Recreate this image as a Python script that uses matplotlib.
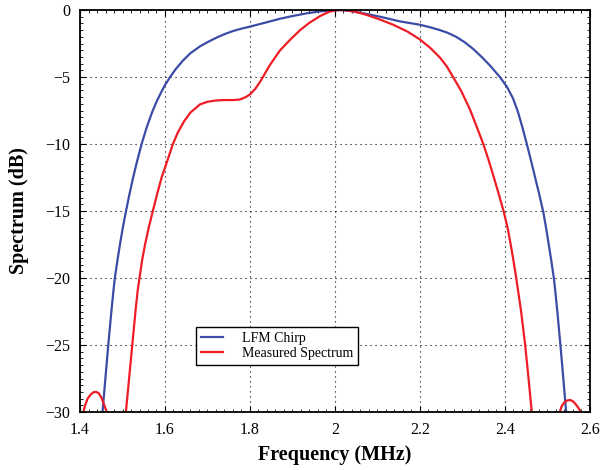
import matplotlib
matplotlib.use("Agg")
import matplotlib.pyplot as plt
from matplotlib.ticker import MultipleLocator

# frequency (MHz) / spectrum (dB)
chirp_freq = [1.450, 1.453, 1.4597, 1.4665, 1.4738, 1.4785, 1.482, 1.488, 1.494,
              1.501, 1.508, 1.516, 1.525, 1.535, 1.545, 1.557, 1.570, 1.580,
              1.590, 1.600, 1.612, 1.625, 1.642, 1.660, 1.682, 1.700, 1.720, 1.740,
              1.760, 1.780, 1.800, 1.835, 1.871, 1.900, 1.933, 1.965, 1.995, 2.012,
              2.030, 2.060, 2.106, 2.153, 2.200, 2.225, 2.247, 2.265, 2.285, 2.305,
              2.325, 2.345, 2.365, 2.388, 2.405, 2.419, 2.430, 2.441, 2.451, 2.461,
              2.471, 2.481, 2.490, 2.497, 2.503, 2.509, 2.515, 2.5185, 2.5232, 2.5305,
              2.5373, 2.544, 2.547]
chirp_db = [-31.5, -30.0, -27.5, -25.0, -22.5, -21.0, -20.0, -18.7, -17.5,
            -16.2, -15.05, -13.8, -12.5, -11.2, -10.0, -8.75, -7.6, -6.85,
            -6.2, -5.6, -5.0, -4.42, -3.78, -3.22, -2.72, -2.4, -2.08, -1.8,
            -1.57, -1.39, -1.24, -0.95, -0.65, -0.45, -0.25, -0.1, -0.02, 0.0,
            -0.05, -0.2, -0.5, -0.85, -1.1, -1.3, -1.5, -1.7, -2.0, -2.4,
            -2.9, -3.5, -4.15, -5.0, -5.75, -6.6, -7.55, -8.75, -9.95, -11.2,
            -12.5, -13.8, -15.05, -16.3, -17.5, -18.7, -20.0, -21.0, -22.5, -25.0,
            -27.5, -30.0, -31.5]

meas_freq = [1.404, 1.408, 1.412, 1.418, 1.425, 1.432, 1.438, 1.444, 1.450, 1.455,
             1.460, 1.463, 1.468, 1.478, 1.500, 1.505, 1.508, 1.5155, 1.523, 1.5305,
             1.5355, 1.540, 1.546, 1.553, 1.562, 1.571, 1.581, 1.592, 1.605,
             1.618, 1.630, 1.645, 1.660, 1.682, 1.700, 1.720, 1.740, 1.760, 1.776,
             1.790, 1.800, 1.812, 1.824, 1.835, 1.847, 1.860, 1.871, 1.895, 1.918,
             1.940, 1.965, 1.985, 2.000, 2.015, 2.030, 2.050, 2.075, 2.105, 2.137,
             2.170, 2.200, 2.225, 2.247, 2.263, 2.278, 2.298, 2.318, 2.337, 2.349,
             2.361, 2.373, 2.386, 2.3975, 2.4065, 2.4135, 2.420, 2.4265, 2.438,
             2.4475, 2.4555, 2.463, 2.467, 2.478, 2.522, 2.526, 2.529, 2.533, 2.539,
             2.546, 2.553, 2.560, 2.566, 2.572, 2.576, 2.579, 2.583]
meas_db = [-31.2, -30.0, -29.5, -29.0, -28.7, -28.52, -28.5, -28.6, -28.9, -29.3,
           -29.75, -30.0, -31.0, -40.0, -40.0, -31.5, -30.0, -27.5, -25.0, -22.5,
           -21.0, -20.0, -18.7, -17.5, -16.2, -15.05, -13.8, -12.5, -11.3,
           -10.05, -9.15, -8.3, -7.65, -7.05, -6.85, -6.75, -6.72, -6.72, -6.68,
           -6.5, -6.3, -5.9, -5.35, -4.75, -4.1, -3.5, -3.0, -2.2, -1.5,
           -0.95, -0.45, -0.15, -0.03, 0.0, -0.03, -0.15, -0.37, -0.7, -1.1,
           -1.6, -2.2, -2.85, -3.55, -4.2, -5.0, -6.1, -7.45, -9.0, -10.0,
           -11.15, -12.4, -13.8, -15.1, -16.3, -17.5, -18.7, -20.0, -22.5,
           -25.0, -27.5, -30.0, -31.5, -40.0, -40.0, -31.0, -30.0, -29.6, -29.3,
           -29.15, -29.1, -29.2, -29.4, -29.65, -29.85, -30.0, -30.6]

xticks = [1.4, 1.6, 1.8, 2.0, 2.2, 2.4, 2.6]
xtick_labels = ["1.4", "1.6", "1.8", "2", "2.2", "2.4", "2.6"]
yticks = [-30, -25, -20, -15, -10, -5, 0]

plt.rcParams["font.family"] = ["Liberation Serif", "DejaVu Serif"]

fig = plt.figure(figsize=(6.02, 4.70), dpi=100)
ax = fig.add_axes([0.1329, 0.1234, 0.8471, 0.8553])

ax.plot(chirp_freq, chirp_db, color="#3b4ca6", lw=1.6, label="LFM Chirp")
ax.plot(meas_freq, meas_db, color="#ee1d25", lw=1.6, label="Measured Spectrum")

ax.set_xlim(1.4, 2.6)
ax.set_ylim(-30, 0)
ax.set_xticks(xticks)
ax.set_xticklabels(xtick_labels)
ax.set_yticks(yticks)
ax.set_yticklabels([str(v).replace("-", "\u2212") for v in yticks])
ax.xaxis.set_minor_locator(MultipleLocator(0.02))
ax.yaxis.set_minor_locator(MultipleLocator(0.5))

ax.tick_params(which="both", direction="in", top=True, right=True, labelsize=11.5)
ax.tick_params(which="major", length=4, width=0.8, pad=7)
ax.tick_params(which="minor", length=2, width=0.6)
for s in ax.spines.values():
    s.set_linewidth(1.3)

ax.grid(True, which="major", color="black", linestyle=(0, (1, 3.5)), linewidth=0.8)

ax.set_xlabel("Frequency (MHz)", fontsize=14.5, fontweight="bold", labelpad=5)
ax.set_ylabel("Spectrum (dB)", fontsize=14.5, fontweight="bold", labelpad=12)

leg = ax.legend(loc="lower left", bbox_to_anchor=(0.227, 0.117), fontsize=10,
                fancybox=False, framealpha=1, edgecolor="black",
                handlelength=1.6, handletextpad=1.4, borderpad=0.35,
                labelspacing=0.15, borderaxespad=0)
leg.get_frame().set_linewidth(1.0)

fig.savefig("out.png", dpi=100)
